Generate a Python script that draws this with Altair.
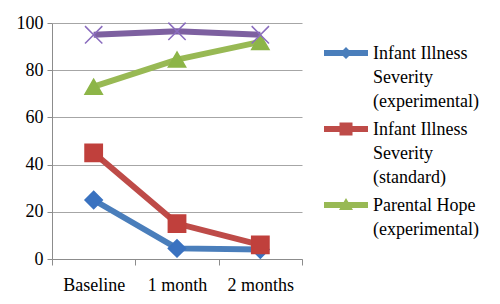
import altair as alt
import pandas as pd

times = ["Baseline", "1 month", "2 months"]
series_names = [
    "Infant Illness|Severity|(experimental)",
    "Infant Illness|Severity|(standard)",
    "Parental Hope|(experimental)",
    "Parental Hope|(standard)",
]
blue_vals = [25, 4.5, 4]
red_vals = [45, 15, 6]
green_vals = [73, 84.5, 92]
purple_vals = [95, 96.5, 95]

line_colors = ["#4A7EBB", "#BE4B48", "#98B954", "#7D60A0"]
marker_colors = ["#3A72C0", "#C0403C", "#8DB548", "#8A6CBE"]
x_path = "M-1,-1L1,1M-1,1L1,-1"
marker_shapes = ["diamond", "square", "triangle-up", x_path]

rows = []
for name, vals in zip(series_names, [blue_vals, red_vals, green_vals, purple_vals]):
    for t, v in zip(times, vals):
        rows.append({"time": t, "series": name, "value": v})
df = pd.DataFrame(rows)

FONT = "Times New Roman, Liberation Serif, DejaVu Serif, serif"
FS = 18

x_enc = alt.X("time:N", sort=times,
              scale=alt.Scale(paddingInner=0, paddingOuter=0),
              axis=alt.Axis(title=None, labelAngle=0, tickBand="extent",
                            labelFontSize=FS, labelFont=FONT, labelColor="black",
                            domainColor="#8c8c8c", tickColor="#8c8c8c",
                            tickSize=6, labelPadding=11, grid=False))
y_enc = alt.Y("value:Q", scale=alt.Scale(domain=[0, 100], nice=False),
              axis=alt.Axis(title=None, values=[0, 20, 40, 60, 80, 100],
                            labelFontSize=FS, labelFont=FONT, labelColor="black",
                            domainColor="#8c8c8c", tickColor="#8c8c8c",
                            gridColor="#a6a6a6", tickSize=5, labelPadding=4))

color_scale = alt.Scale(domain=series_names, range=line_colors)

# legend symbols: a line with the marker, shifted down to sit on the first label line
leg_paths = [
    "M-2.2,0.5H2.2V1.1H-2.2Z M0,0.2L0.6,0.8L0,1.4L-0.6,0.8Z",
    "M-2.2,0.5H2.2V1.1H-2.2Z M-0.65,0.15H0.65V1.45H-0.65Z",
    "M-2.2,0.5H2.2V1.1H-2.2Z M0,0.1L0.7,1.3H-0.7Z",
    "M-2.2,0.5H2.2V1.1H-2.2Z",
]

legend = alt.Legend(
    title=None, orient="none", legendX=284, legendY=12,
    values=series_names[:3], direction="vertical",
    symbolSize=400, symbolStrokeWidth=0, symbolOpacity=1,
    labelExpr="split(datum.label, '|')",
    labelFont=FONT, labelFontSize=FS, labelColor="black",
    labelBaseline="top", labelOffset=17, labelLimit=300,
    rowPadding=-5, padding=0,
)

lines = alt.Chart(df).mark_line(strokeWidth=6).encode(
    x=x_enc, y=y_enc,
    color=alt.Color("series:N", scale=color_scale, legend=legend),
)

point_layers = []
for name, shp, mc in zip(series_names, marker_shapes, marker_colors):
    point_layers.append(
        alt.Chart(df).transform_filter(alt.datum.series == name)
        .mark_point(shape=shp, filled=True, size=300, stroke=mc, fill=mc,
                    strokeWidth=1.5, opacity=1)
        .encode(x=alt.X("time:N", sort=times), y="value:Q")
    )

legend_layer = alt.Chart(df).mark_point(filled=True, opacity=0).encode(
    x=alt.X("time:N", sort=times),
    y="value:Q",
    color=alt.Color("series:N", scale=color_scale, legend=legend),
    shape=alt.Shape("series:N",
                    scale=alt.Scale(domain=series_names, range=leg_paths),
                    legend=legend),
)

chart = alt.layer(lines, *point_layers, legend_layer).properties(
    width=250, height=236,
    autosize=alt.AutoSizeParams(type="none"),
    padding={"left": 44, "top": 15, "right": 190, "bottom": 37},
    background="white",
).configure(
    font=FONT,
    style={"guide-label": {"lineHeight": 24}},
).configure_view(stroke=None).configure_axis(gridWidth=1)

chart.save("out.html", embed_options={"renderer": "svg", "actions": False})
